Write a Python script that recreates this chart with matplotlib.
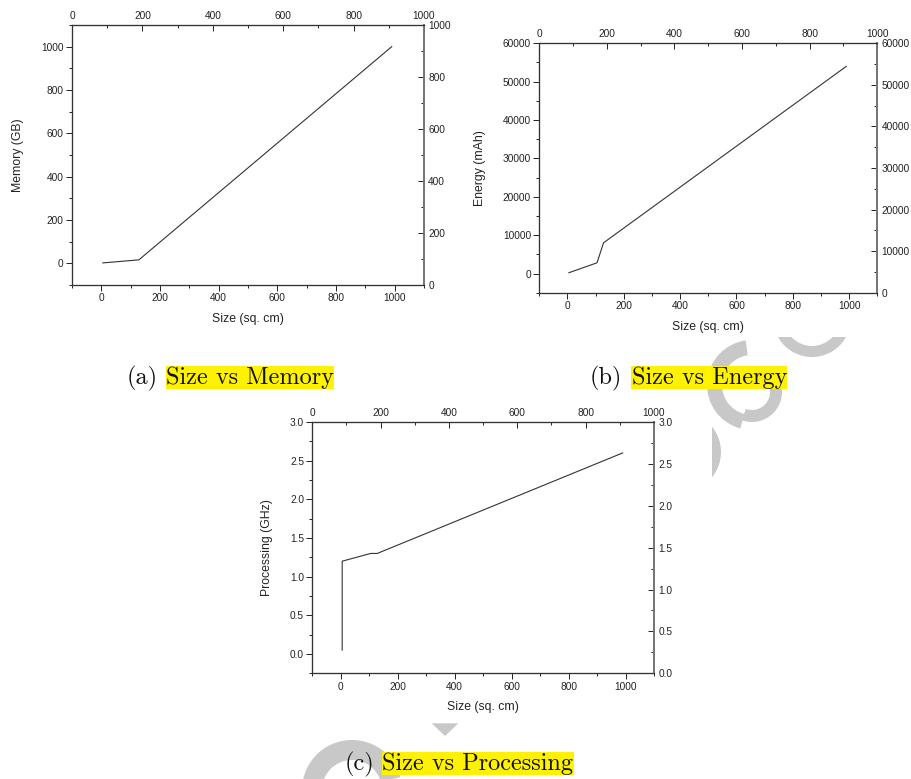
import matplotlib
matplotlib.use('Agg')
import matplotlib.pyplot as plt
from matplotlib.ticker import MultipleLocator, FormatStrFormatter
from matplotlib.patches import Wedge, Circle, Polygon, Rectangle

# data
size_mem = [5, 128, 990]
memory = [2, 16, 1000]

size_energy = [5, 105, 128, 990]
energy = [200, 2800, 8000, 54000]

size_proc = [5, 5, 105, 128, 990]
processing = [0.05, 1.2, 1.3, 1.3, 2.6]

W, H = 912, 779
fig = plt.figure(figsize=(W / 100, H / 100), dpi=100)

tick_font = dict(family='Liberation Sans', size=7.3)
label_font = dict(family='Liberation Sans', size=8.8)
ink = '#222222'
grey = '#c8c8c8'

# faint watermark pieces behind everything (image pixel coordinates)
bg = fig.add_axes([0, 0, 1, 1], zorder=-1)
bg.set_xlim(0, W)
bg.set_ylim(H, 0)
bg.axis('off')
clip_b = Rectangle((0, 337), W, H, transform=bg.transData)
clip_c = Rectangle((711.7, 0), W, H, transform=bg.transData)
shapes = [
    Wedge((352, 790), 50, 185, 345, width=20),
    Wedge((752, 385), 45, 105, 262, width=15),
    Wedge((752, 392), 30, -20, 110, width=12),
    Polygon([(431.7, 723.3), (458.3, 723.3), (445, 736)]),
]
for s in shapes:
    s.set_facecolor(grey)
    s.set_edgecolor('none')
    bg.add_patch(s)
top_ring = Wedge((812, 318), 39, 0, 180, width=11, facecolor=grey, edgecolor='none')
bg.add_patch(top_ring)
top_ring.set_clip_path(clip_b)
side = Circle((681, 452), 40, facecolor=grey, edgecolor='none')
bg.add_patch(side)
side.set_clip_path(clip_c)


def panel(rect, xs, ys, ylim, ytop, ymaj, ymin, fmt, ylabel):
    ax = fig.add_axes(rect)
    ax.plot(xs, ys, color='#333333', lw=0.8)
    ax.set_xlim(-100, 1100)
    ax.set_ylim(*ylim)
    ax.xaxis.set_major_locator(MultipleLocator(200))
    ax.xaxis.set_minor_locator(MultipleLocator(100))
    ax.yaxis.set_major_locator(MultipleLocator(ymaj))
    ax.yaxis.set_minor_locator(MultipleLocator(ymin))
    ax.yaxis.set_major_formatter(FormatStrFormatter(fmt))
    ax.tick_params(which='both', direction='out', colors=ink, width=0.7)
    ax.tick_params(which='major', length=4, pad=2)
    ax.tick_params(which='minor', length=2.5)
    for lab in ax.get_xticklabels() + ax.get_yticklabels():
        lab.set_fontproperties(tick_font)
    ax.set_xlabel('Size (sq. cm)', color=ink, labelpad=7, **label_font)
    ax.set_ylabel(ylabel, color=ink, labelpad=12, **label_font)

    axr = ax.twinx()
    axr.set_ylim(0, ytop)
    axr.yaxis.set_major_locator(MultipleLocator(ymaj))
    axr.yaxis.set_minor_locator(MultipleLocator(ymin))
    axr.yaxis.set_major_formatter(FormatStrFormatter(fmt))
    axr.tick_params(which='both', direction='in', colors=ink, width=0.7)
    axr.tick_params(which='major', length=4, pad=3)
    axr.tick_params(which='minor', length=2.5)
    for lab in axr.get_yticklabels():
        lab.set_fontproperties(tick_font)

    axt = ax.twiny()
    axt.set_xlim(0, 1000)
    axt.xaxis.set_major_locator(MultipleLocator(200))
    axt.xaxis.set_minor_locator(MultipleLocator(100))
    axt.tick_params(which='both', direction='in', colors=ink, width=0.7)
    axt.tick_params(which='major', length=4, pad=3)
    axt.tick_params(which='minor', length=2.5)
    for lab in axt.get_xticklabels():
        lab.set_fontproperties(tick_font)

    for a in (ax, axr, axt):
        for sp in a.spines.values():
            sp.set_linewidth(0.8)
            sp.set_color('#333333')
        a.spines['right'].set_color('#777777')
        a.spines['right'].set_linewidth(1.3)
    return ax


panel([72 / W, 1 - 285 / H, 352 / W, 260 / H], size_mem, memory,
      (-100, 1100), 1000, 200, 100, '%d', 'Memory (GB)')
panel([539.3 / W, 1 - 292.7 / H, 338 / W, 249.4 / H], size_energy, energy,
      (-5000, 60000), 60000, 10000, 5000, '%d', 'Energy (mAh)')
panel([312.3 / W, 1 - 673.3 / H, 341.7 / W, 251.3 / H], size_proc, processing,
      (-0.25, 3.0), 3.0, 0.5, 0.25, '%.1f', 'Processing (GHz)')

# sub-figure captions
cap_font = dict(family='cmr10', size=17.5, color='#111111', va='baseline')
captions = [('(a)', 'Size vs Memory', 127, 166, 384),
            ('(b)', 'Size vs Energy', 590, 631.5, 384),
            ('(c)', 'Size vs Processing', 345, 382.5, 770)]
for tag, title, xt, xh, yb in captions:
    fig.text(xt / W, 1 - yb / H, tag, **cap_font)
    fig.text(xh / W, 1 - yb / H, title,
             bbox=dict(boxstyle='square,pad=0.02', facecolor='#fff200', edgecolor='none'),
             **cap_font)

fig.savefig('out.png', dpi=100)
